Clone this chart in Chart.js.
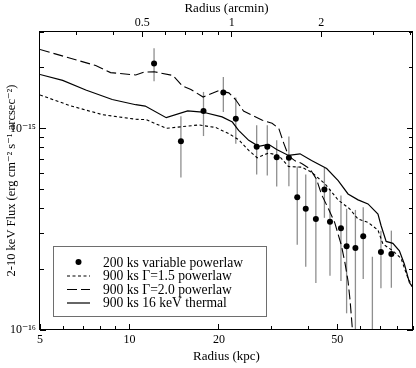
<!DOCTYPE html>
<html><head><meta charset="utf-8">
<style>html,body{margin:0;padding:0;background:#fff}#wrap{width:416px;height:368px;position:relative}</style>
<script src="https://cdn.jsdelivr.net/npm/chart.js@4.4.1/dist/chart.umd.min.js"></script>
</head><body><div id="wrap"><canvas id="c" width="416" height="368"></canvas></div>
<script>
// ---------- data (flux in units of 1e-15 erg cm^-2 s^-1 arcsec^-2, radius in kpc) ----------
const FLUX_UNIT = 1e-15;
const KPC_PER_ARCMIN = 22.1;
const X_MIN = 5, X_MAX = 90;
const Y_MIN = 0.1, Y_MAX = 3.04;

const bottomTickValues = [5, 10, 20, 50];
const topTickValues = [0.5, 1, 2];
const yTickValues = [0.1, 1];
const yTickTexts = ['10⁻¹⁶', '10⁻¹⁵'];

const seriesLabels = ['200 ks variable powerlaw', '900 ks Γ=1.5 powerlaw', '900 ks Γ=2.0 powerlaw', '900 ks 16 keV thermal'];

const obsRadius = [12.1,14.9,17.75,20.7,22.8,26.8,29.1,31.3,34.4,36.7,39.2,42.4,45.3,47.3,51.5,53.8,57.6,61.2,65.7,70.2,76.1];
const obsFlux   = [2.10,0.862,1.22,1.505,1.117,0.811,0.811,0.720,0.715,0.455,0.399,0.355,0.497,0.344,0.320,0.260,0.255,0.292,0.09,0.244,0.238];
const obsUpper  = [2.50,1.147,1.516,1.80,1.421,1.035,1.035,0.872,0.912,0.647,0.590,0.562,0.637,0.501,0.464,0.399,0.394,0.406,0.231,0.311,0.311];
const obsLower  = [1.713,0.570,0.916,1.205,0.839,0.590,0.584,0.515,0.516,0.265,0.206,0.171,0.360,0.186,0.175,0.121,0.09,0.179,0.01,0.161,0.162];

const g15Radius = [5.0,6.27,8.10,10.5,11.4,13.3,15.1,17.1,19.5,21.6,23.3,25.2,26.9,29.4,31.8,34.3,38.0,41.0,45.5,50.4,55.1,58.8,63.5,68.6,71.3,77.0,82.0,86.4,90.0];
const g15Flux   = [1.465,1.30,1.17,1.11,1.105,1.00,1.02,1.04,1.01,0.941,0.879,0.777,0.715,0.755,0.734,0.647,0.642,0.606,0.531,0.441,0.399,0.355,0.342,0.313,0.267,0.247,0.227,0.182,0.162];

const g20Radius = [5.0,7.7,8.64,10.5,11.2,12.1,14.0,15.1,16.1,17.7,20.0,21.6,22.75,24.2,27.9,30.2,31.8,33.0,34.3,36.1,38.0,40.5,42.6,44.3,46.7,49.1,51.7,53.1,54.4,55.3,56.3,57.0];
const g20Flux   = [2.46,2.05,1.89,1.84,1.90,1.91,1.83,1.62,1.56,1.43,1.54,1.50,1.39,1.22,1.10,1.06,1.00,0.85,0.73,0.69,0.67,0.63,0.56,0.47,0.40,0.34,0.262,0.216,0.175,0.139,0.0997,0.079];

const thRadius = [5.0,5.96,7.13,8.75,10.5,11.3,13.3,15.7,17.6,20.5,22.2,23.3,25.2,27.2,29.4,31.3,34.3,37.5,41.0,46.1,50.4,54.4,58.8,63.5,68.6,70.3,73.1,77.0,81.0,84.2,87.5,90.0];
const thFlux   = [1.85,1.73,1.55,1.39,1.31,1.29,1.13,1.22,1.205,1.14,1.075,0.977,0.872,0.814,0.833,0.786,0.734,0.748,0.693,0.632,0.551,0.473,0.442,0.422,0.376,0.329,0.275,0.269,0.247,0.212,0.172,0.162];

// ---------- chart ----------
const SERIF = "'Liberation Serif', 'DejaVu Serif', serif";
const toXY = (xs, ys) => xs.map((x, i) => ({x: x, y: ys[i] * FLUX_UNIT}));
const near = (a, b) => Math.abs(a / b - 1) < 1e-6;
function labelFrom(v, vals, texts, unit) {
  const i = vals.findIndex(t => near(v, t * (unit || 1)));
  return i >= 0 ? (texts ? texts[i] : String(vals[i])) : '';
}

const errorBarPlugin = {
  id: 'errorBars',
  beforeDatasetsDraw(chart) {
    const c = chart.ctx, ca = chart.chartArea;
    const xs = chart.scales.x, ys = chart.scales.y;
    c.save();
    c.beginPath(); c.rect(ca.left, ca.top, ca.width, ca.height); c.clip();
    c.strokeStyle = '#8f8f8f'; c.lineWidth = 1.3;
    obsRadius.forEach((r, i) => {
      const px = xs.getPixelForValue(r);
      c.beginPath();
      c.moveTo(px, ys.getPixelForValue(obsUpper[i] * FLUX_UNIT));
      c.lineTo(px, ys.getPixelForValue(obsLower[i] * FLUX_UNIT));
      c.stroke();
    });
    c.restore();
  }
};

function drawTicks(chart, scale, edge) {
  const c = chart.ctx, ca = chart.chartArea;
  scale.ticks.forEach(t => {
    const v = t.value;
    if (v < scale.min * 0.9999 || v > scale.max * 1.0001) return;
    const e = Math.floor(Math.log10(v) + 1e-9);
    const sig = v / Math.pow(10, e);
    if (Math.abs(sig - Math.round(sig)) > 1e-6) return;
    const major = (t.label && t.label !== '');
    const len = major ? 6 : 4;
    const p = Math.floor(scale.getPixelForValue(v)) + 0.5;
    c.beginPath();
    if (edge === 'bottom') { c.moveTo(p, ca.bottom); c.lineTo(p, ca.bottom - len); }
    else if (edge === 'top') { c.moveTo(p, ca.top); c.lineTo(p, ca.top + len); }
    else if (edge === 'left') { c.moveTo(ca.left, p); c.lineTo(ca.left + len, p); }
    else { c.moveTo(ca.right, p); c.lineTo(ca.right - len, p); }
    c.stroke();
  });
}

const framePlugin = {
  id: 'frame',
  afterDatasetsDraw(chart) {
    const c = chart.ctx, ca = chart.chartArea;
    c.save();
    c.strokeStyle = '#000'; c.lineWidth = 1; c.setLineDash([]);
    c.strokeRect(ca.left - 0.5, ca.top + 0.5, ca.width, ca.height - 1);
    drawTicks(chart, chart.scales.x, 'bottom');
    drawTicks(chart, chart.scales.x2, 'top');
    drawTicks(chart, chart.scales.y, 'left');
    drawTicks(chart, chart.scales.y, 'right');
    c.restore();
  }
};

const boxLegendPlugin = {
  id: 'boxLegend',
  afterDatasetsDraw(chart) {
    const c = chart.ctx, ca = chart.chartArea;
    const bx = ca.left + 13, by = ca.bottom - 84, bw = 213, bh = 70;
    c.save();
    c.fillStyle = '#fff';
    c.fillRect(bx, by, bw, bh);
    c.strokeStyle = '#6e6e6e'; c.lineWidth = 1; c.setLineDash([]);
    c.strokeRect(bx + 0.5, by + 0.5, bw, bh);
    const rowY = [16, 29.5, 43, 56.5];
    chart.data.datasets.forEach((ds, i) => {
      const y = by + rowY[i];
      const x0 = bx + 14, x1 = bx + 37;
      if (ds.showLine === false) {
        c.fillStyle = '#000';
        c.beginPath(); c.arc((x0 + x1) / 2, y, ds.pointRadius, 0, Math.PI * 2); c.fill();
      } else {
        c.strokeStyle = ds.borderColor; c.lineWidth = ds.borderWidth;
        c.setLineDash(ds.borderDash || []);
        c.beginPath(); c.moveTo(x0, y + 0.5); c.lineTo(x1, y + 0.5); c.stroke();
        c.setLineDash([]);
      }
      c.fillStyle = '#000';
      c.font = '13.6px ' + SERIF;
      c.textBaseline = 'middle'; c.textAlign = 'left';
      c.fillText(ds.label, bx + 50, y + 1);
    });
    c.restore();
  }
};

const tickFont = {family: SERIF, size: 12};
const titleFont = {family: SERIF, size: 13};

new Chart(document.getElementById('c'), {
  type: 'scatter',
  data: {
    datasets: [
      {label: seriesLabels[0], data: toXY(obsRadius, obsFlux), showLine: false,
       pointRadius: 3, pointHoverRadius: 3, pointBackgroundColor: '#000', pointBorderColor: '#000', pointBorderWidth: 0},
      {label: seriesLabels[1], data: toXY(g15Radius, g15Flux), showLine: true, borderColor: '#000', borderWidth: 1.1,
       borderDash: [3, 2.5], pointRadius: 0, tension: 0, fill: false},
      {label: seriesLabels[2], data: toXY(g20Radius, g20Flux), showLine: true, borderColor: '#000', borderWidth: 1.1,
       borderDash: [10, 4], pointRadius: 0, tension: 0, fill: false},
      {label: seriesLabels[3], data: toXY(thRadius, thFlux), showLine: true, borderColor: '#000', borderWidth: 1.2,
       pointRadius: 0, tension: 0, fill: false}
    ]
  },
  options: {
    responsive: false, animation: false, devicePixelRatio: 1,
    layout: {padding: {left: 0, right: 0, top: 0, bottom: 0}},
    plugins: {legend: {display: false}, tooltip: {enabled: false}},
    scales: {
      x: {
        type: 'logarithmic', position: 'bottom', display: true, min: X_MIN, max: X_MAX,
        grid: {display: false, drawTicks: false}, border: {display: false},
        ticks: {autoSkip: false, maxRotation: 0, minRotation: 0, padding: 3, color: '#000', font: tickFont,
                callback: (v) => labelFrom(v, bottomTickValues)},
        title: {display: true, text: 'Radius (kpc)', color: '#000', font: titleFont, padding: {top: 0, bottom: 4}},
        afterFit: (s) => { s.height = 38; }
      },
      x2: {
        type: 'logarithmic', axis: 'x', position: 'top', display: true,
        min: X_MIN / KPC_PER_ARCMIN, max: X_MAX / KPC_PER_ARCMIN,
        grid: {display: false, drawTicks: false}, border: {display: false},
        ticks: {autoSkip: false, maxRotation: 0, minRotation: 0, padding: 1, color: '#000', font: tickFont,
                callback: (v) => labelFrom(v, topTickValues)},
        title: {display: true, text: 'Radius (arcmin)', color: '#000', font: titleFont, padding: {top: 1, bottom: 0}},
        afterFit: (s) => { s.height = 31; }
      },
      y: {
        type: 'logarithmic', position: 'left', display: true,
        min: Y_MIN * FLUX_UNIT, max: Y_MAX * FLUX_UNIT,
        grid: {display: false, drawTicks: false}, border: {display: false},
        ticks: {autoSkip: false, padding: 4, color: '#000', font: tickFont,
                callback: (v) => labelFrom(v, yTickValues, yTickTexts, FLUX_UNIT)},
        title: {display: true, text: '2-10 keV Flux (erg cm⁻² s⁻¹ arcsec⁻²)', color: '#000', font: {family: SERIF, size: 12.5}, padding: {top: 4, bottom: 0}},
        afterFit: (s) => { s.width = 40; }
      }
    }
  },
  plugins: [errorBarPlugin, framePlugin, boxLegendPlugin]
});
</script>
</body></html>
